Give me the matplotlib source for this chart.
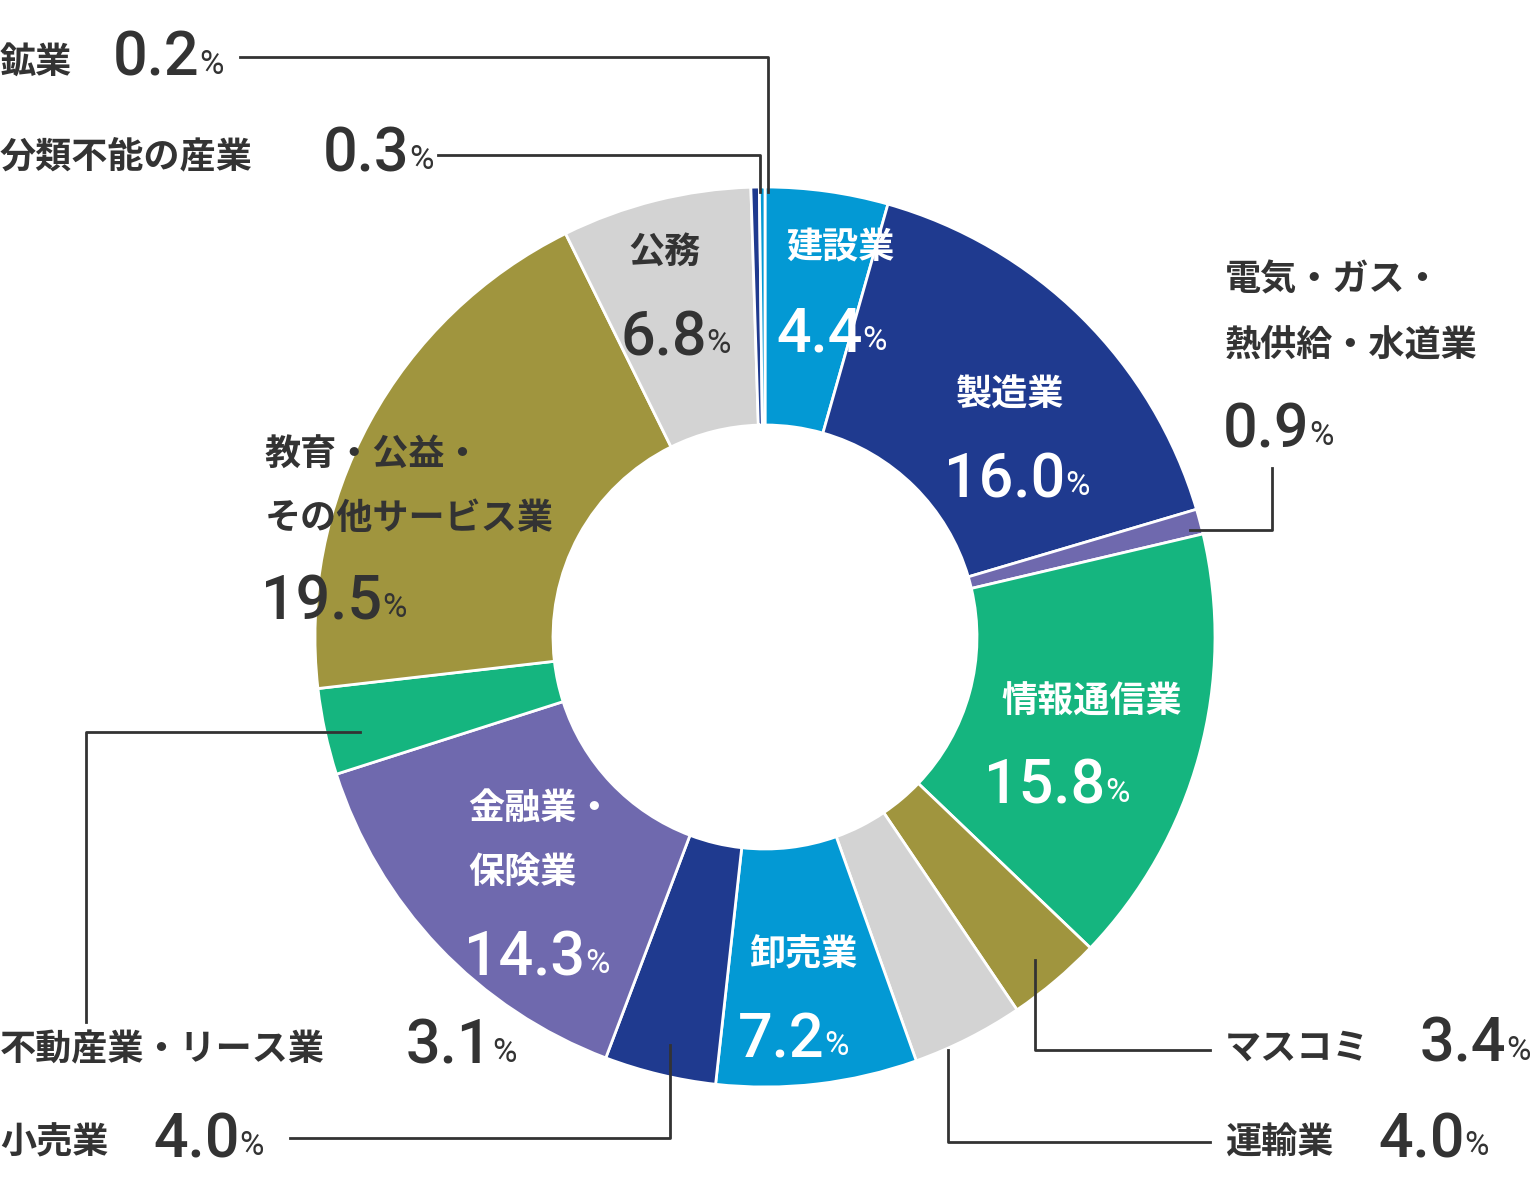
import matplotlib.pyplot as plt

plt.rcParams['font.family'] = ['Noto Sans CJK JP', 'DejaVu Sans']

categories = ['建設業', '製造業', '電気・ガス・熱供給・水道業', '情報通信業', 'マスコミ', '運輸業',
              '卸売業', '小売業', '金融業・保険業', '不動産業・リース業', '教育・公益・その他サービス業',
              '公務', '分類不能の産業', '鉱業']
values = [4.4, 16.0, 0.9, 15.8, 3.4, 4.0, 7.2, 4.0, 14.3, 3.1, 19.5, 6.8, 0.3, 0.2]
colors = ['#0399d4', '#1f3a8f', '#6f69ae', '#15b57f', '#a0953e', '#d3d3d3', '#0399d4',
          '#1f3a8f', '#6f69ae', '#15b57f', '#a0953e', '#d3d3d3', '#1f3a8f', '#0399d4']

W, H = 1536, 1179
fig = plt.figure(figsize=(W / 100, H / 100), dpi=100)
ax = fig.add_axes([0, 0, 1, 1])
ax.set_xlim(0, W)
ax.set_ylim(0, H)
ax.axis('off')

cx, cy = 765, H - 637
R = 450
ax.pie(values, colors=colors, startangle=90, counterclock=False, center=(cx, cy), radius=R,
       wedgeprops=dict(width=238, edgecolor='white', linewidth=2), frame=True)
ax.set_xlim(0, W)
ax.set_ylim(0, H)
ax.set_aspect('equal')
ax.axis('off')

DARK = '#333333'


def Y(py):
    return H - py


def label(x, py, s, color=DARK, ha='left'):
    ax.text(x, Y(py), s, fontsize=26, fontweight='bold', color=color, ha=ha, va='center')


def number(x, py, v, color=DARK):
    t = ax.text(x, Y(py), f'{v:.1f}', fontsize=44, fontweight='medium', color=color,
                ha='left', va='center', family=['Roboto', 'DejaVu Sans'])
    ax.annotate('%', xy=(1, 0.12), xycoords=t, fontsize=24, color=color, ha='left', va='bottom',
                family=['Roboto', 'DejaVu Sans'])


# inner labels
label(840, 248, '建設業', 'white', 'center'); number(776, 335, values[0], 'white')
label(1010, 395, '製造業', 'white', 'center'); number(944, 480, values[1], 'white')
label(1092, 702, '情報通信業', 'white', 'center'); number(984, 787, values[3], 'white')
label(803, 955, '卸売業', 'white', 'center'); number(738, 1040, values[6], 'white')
label(468, 808, '金融業・', 'white'); label(468, 873, '保険業', 'white'); number(464, 958, values[8], 'white')
label(265, 455, '教育・公益・'); label(265, 518, 'その他サービス業'); number(261, 602, values[10])
label(665, 252, '公務', DARK, 'center'); number(620, 338, values[11])

# outer labels
label(1225, 280, '電気・ガス・'); label(1225, 345, '熱供給・水道業'); number(1223, 430, values[2])
label(1225, 1048, 'マスコミ'); number(1420, 1045, values[4])
label(1225, 1143, '運輸業'); number(1378, 1140, values[5])
label(0, 1143, '小売業'); number(153, 1140, values[7])
label(0, 1050, '不動産業・リース業'); number(406, 1047, values[9])
label(0, 62, '鉱業'); number(113, 59, values[13])
label(0, 157, '分類不能の産業'); number(323, 154, values[12])

# leader lines
leaders = [
    [(240, 57), (768, 57), (768, 192)],
    [(438, 155), (760, 155), (760, 192)],
    [(1190, 530), (1272, 530), (1272, 468)],
    [(1035, 960), (1035, 1050), (1210, 1050)],
    [(948, 1050), (948, 1142), (1210, 1142)],
    [(670, 1045), (670, 1138), (290, 1138)],
    [(360, 732), (86, 732), (86, 1022)],
]
for pts in leaders:
    ax.plot([p[0] for p in pts], [Y(p[1]) for p in pts], color=DARK, lw=2)

fig.savefig('out.png', dpi=100)
